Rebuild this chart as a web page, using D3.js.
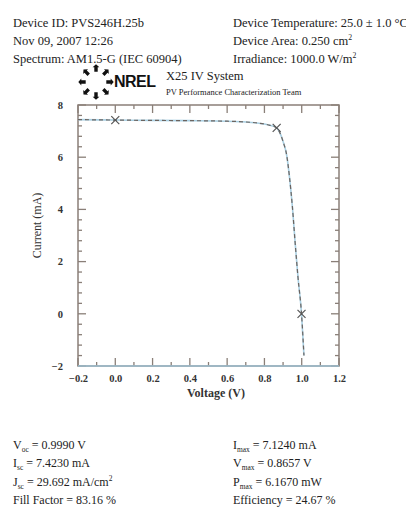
<!DOCTYPE html>
<html>
  <head>
    <meta charset="utf-8">
    <title>IV curve PVS246H.25b</title>
    <script src="https://cdn.jsdelivr.net/npm/d3@7/dist/d3.min.js"></script>
    <style>
      body { margin: 0; background: #fff; }
      svg { font-family: "Liberation Serif", "DejaVu Serif", serif; }
      .hdr { font-size: 12.5px; fill: #222; }
      .tick text { font-family: "Liberation Serif", "DejaVu Serif", serif; font-size: 10.5px; font-weight: bold; fill: #333; }
      .frame { fill: none; stroke: #8a7f78; stroke-width: 1.5; }
    </style>
  </head>

  <body>
    <svg id="chart" width="406" height="509"></svg>

    <script>
      // data
      voltage = [-0.2, 0.0, 0.2, 0.4, 0.6, 0.7, 0.75, 0.8, 0.83, 0.8657, 0.88, 0.9, 0.92, 0.935, 0.95, 0.965, 0.98, 0.999, 1.012];
      current = [7.44, 7.423, 7.41, 7.40, 7.38, 7.35, 7.32, 7.27, 7.22, 7.124, 6.98, 6.6, 6.05, 5.2, 4.1, 2.7, 1.4, 0.0, -1.6];
      markerV = [0.0, 0.8657, 0.999];
      markerI = [7.423, 7.124, 0.0];
      xTicks = [-0.2, 0.0, 0.2, 0.4, 0.6, 0.8, 1.0, 1.2];
      yTicks = [-2, 0, 2, 4, 6, 8];

      headerLeft = ["Device ID: PVS246H.25b", "Nov 09, 2007 12:26", "Spectrum: AM1.5-G (IEC 60904)"];
      headerRight = [
        [["Device Temperature: 25.0 ± 1.0 °C", ""]],
        [["Device Area: 0.250 cm", ""], ["2", "sup"]],
        [["Irradiance: 1000.0 W/m", ""], ["2", "sup"]]
      ];
      resultsLeft = [
        [["V", ""], ["oc", "sub"], [" = 0.9990 V", ""]],
        [["I", ""], ["sc", "sub"], [" = 7.4230 mA", ""]],
        [["J", ""], ["sc", "sub"], [" = 29.692 mA/cm", ""], ["2", "sup"]],
        [["Fill Factor = 83.16 %", ""]]
      ];
      resultsRight = [
        [["I", ""], ["max", "sub"], [" = 7.1240 mA", ""]],
        [["V", ""], ["max", "sub"], [" = 0.8657 V", ""]],
        [["P", ""], ["max", "sub"], [" = 6.1670 mW", ""]],
        [["Efficiency = 24.67 %", ""]]
      ];

      chart = d3.select("#chart");
      margin = { top: 105, right: 67, bottom: 143, left: 78 };
      width = 406;
      height = 509;

      x = d3.scaleLinear().domain([-0.2, 1.2]).range([margin.left, width - margin.right]);
      y = d3.scaleLinear().domain([-2, 8]).range([height - margin.bottom, margin.top]);

      // header text
      function richText(g, parts, px, py, size) {
        let t = g.append("text").attr("class", "hdr").attr("x", px).attr("y", py).style("font-size", size + "px");
        let shift = 0;
        parts.forEach(p => {
          let dy = 0;
          if (p[1] == "sub") dy = 3;
          if (p[1] == "sup") dy = -5;
          let s = t.append("tspan").text(p[0]).attr("dy", dy - shift);
          if (p[1] != "") s.style("font-size", (size * 0.62) + "px");
          shift = dy;
        });
      }

      headerLeft.forEach((s, i) => richText(chart, [[s, ""]], 13, 27 + i * 18, 12.5));
      headerRight.forEach((s, i) => richText(chart, s, 233, 27 + i * 18, 12.5));
      resultsLeft.forEach((s, i) => richText(chart, s, 13, 449 + i * 18.3, 12));
      resultsRight.forEach((s, i) => richText(chart, s, 233, 449 + i * 18.3, 12));

      // NREL logo
      logo = chart.append("g").attr("transform", "translate(96,82)");
      d3.range(8).forEach(k => {
        logo.append("path")
          .attr("d", "M-3.4,-2.2 L0,-5.2 L3.4,-2.2 L1.7,-2.2 L1.7,2.2 L-1.7,2.2 L-1.7,-2.2 Z")
          .attr("transform", "rotate(" + (k * 45) + ") translate(0,-12.5)")
          .attr("fill", "#111");
      });
      chart.append("text").attr("x", 114).attr("y", 87)
        .style("font-family", "'Liberation Sans', Arial, sans-serif")
        .style("font-weight", "bold").style("font-size", "16px").style("letter-spacing", "-0.5px")
        .attr("fill", "#111").text("NREL");
      chart.append("text").attr("class", "hdr").attr("x", 166).attr("y", 80)
        .style("font-size", "12.5px").text("X25 IV System");
      chart.append("text").attr("class", "hdr").attr("x", 166).attr("y", 95)
        .style("font-size", "8.5px").text("PV Performance Characterization Team");

      // ticks
      minorX = d3.range(-0.1, 1.2, 0.2);
      minorY = d3.range(-2, 8.01, 0.4).filter(v => Math.abs(v / 2 - Math.round(v / 2)) > 0.01);
      ticksG = chart.append("g").attr("stroke", "#8a7f78").attr("stroke-width", 1.3);
      function tickLines(vals, len, axis) {
        vals.forEach(v => {
          if (axis == "x") {
            ticksG.append("line").attr("x1", x(v)).attr("x2", x(v)).attr("y1", y(-2)).attr("y2", y(-2) - len);
            ticksG.append("line").attr("x1", x(v)).attr("x2", x(v)).attr("y1", y(8)).attr("y2", y(8) + len);
          } else {
            ticksG.append("line").attr("y1", y(v)).attr("y2", y(v)).attr("x1", x(-0.2)).attr("x2", x(-0.2) + len);
            ticksG.append("line").attr("y1", y(v)).attr("y2", y(v)).attr("x1", x(1.2)).attr("x2", x(1.2) - len);
          }
        });
      }
      tickLines(xTicks, 8, "x");
      tickLines(minorX, 4, "x");
      tickLines(yTicks, 8, "y");
      tickLines(minorY, 4, "y");

      xAxis = d3.axisBottom(x).tickValues(xTicks).tickFormat(d3.format(".1f")).tickSize(0).tickPadding(9);
      yAxis = d3.axisLeft(y).tickValues(yTicks).tickFormat(d3.format("d")).tickSize(0).tickPadding(15);
      chart.append("g").attr("transform", "translate(0," + y(-2) + ")").call(xAxis)
        .call(g => g.select(".domain").remove());
      chart.append("g").attr("transform", "translate(" + x(-0.2) + ",0)").call(yAxis)
        .call(g => g.select(".domain").remove());

      // frame
      chart.append("rect").attr("class", "frame")
        .attr("x", x(-0.2)).attr("y", y(8))
        .attr("width", x(1.2) - x(-0.2)).attr("height", y(-2) - y(8));
      chart.append("line").attr("x1", x(-0.2)).attr("x2", x(1.2)).attr("y1", y(-2)).attr("y2", y(-2))
        .attr("stroke", "#9dbfd2").attr("stroke-width", 1.5);

      // curve
      pts = voltage.map((v, i) => [v, current[i]]);
      line = d3.line().x(d => x(d[0])).y(d => y(d[1])).curve(d3.curveMonotoneX);
      chart.append("path").attr("d", line(pts)).attr("fill", "none")
        .attr("stroke", "#a9cfe2").attr("stroke-width", 1.6);
      chart.append("path").attr("d", line(pts)).attr("fill", "none")
        .attr("stroke", "#6b6460").attr("stroke-width", 1.2).attr("stroke-dasharray", "4,3");

      // markers
      markerV.forEach((v, i) => {
        let cx = x(v), cy = y(markerI[i]), r = 4;
        chart.append("path")
          .attr("d", "M" + (cx - r) + "," + (cy - r) + "L" + (cx + r) + "," + (cy + r) + "M" + (cx - r) + "," + (cy + r) + "L" + (cx + r) + "," + (cy - r))
          .attr("stroke", "#555").attr("stroke-width", 1.2);
      });

      // axis labels
      chart.append("text").attr("x", 216).attr("y", 397).attr("text-anchor", "middle")
        .style("font-size", "12px").style("font-weight", "bold").attr("fill", "#333").text("Voltage (V)");
      chart.append("text").attr("transform", "translate(41," + ((y(8) + y(-2)) / 2 - 10) + ") rotate(-90)")
        .attr("text-anchor", "middle").style("font-size", "12px")
        .attr("fill", "#333").text("Current (mA)");
    </script>
  </body>
</html>
